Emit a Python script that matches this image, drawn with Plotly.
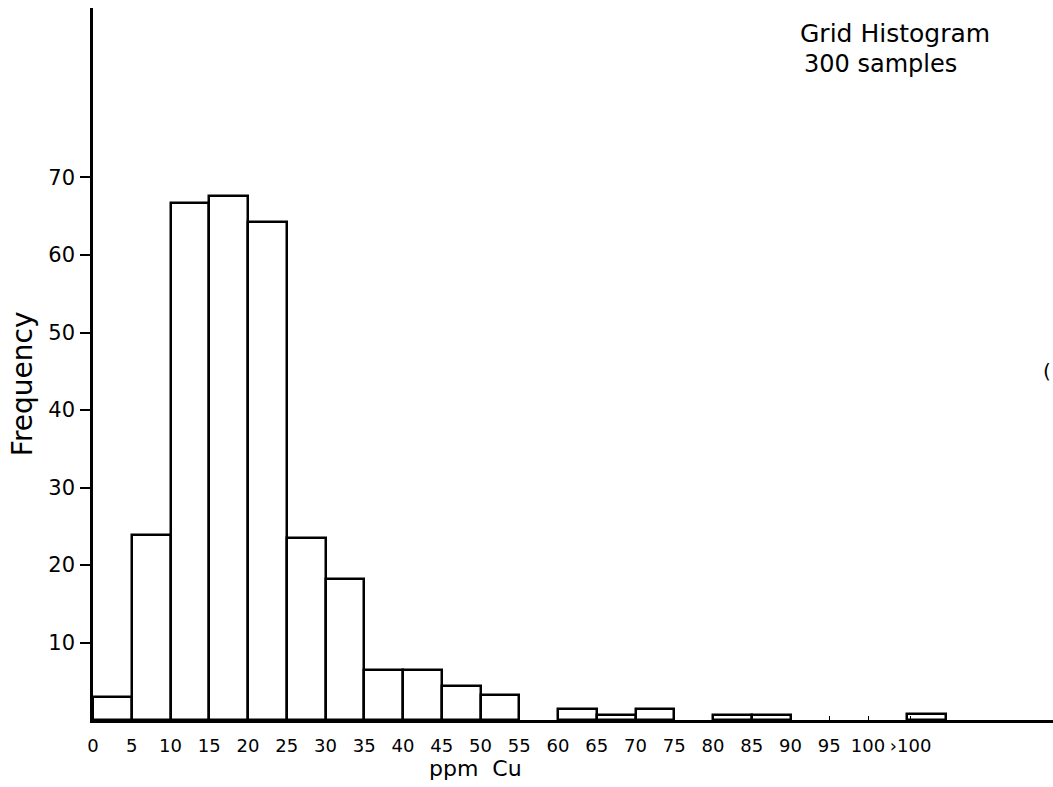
import plotly.graph_objects as go

# Bin lower edges (ppm Cu) and frequencies
bin_starts = [0, 5, 10, 15, 20, 25, 30, 35, 40, 45, 50, 60, 65, 70, 80, 85, 105]
frequencies = [3.0, 23.9, 66.7, 67.6, 64.3, 23.5, 18.2, 6.4, 6.5, 4.4, 3.2, 1.4, 0.7, 1.4, 0.7, 0.7, 0.8]
bin_width = 5

x_tick_vals = [0, 5, 10, 15, 20, 25, 30, 35, 40, 45, 50, 55, 60, 65, 70, 75, 80, 85, 90, 95, 100, 105.5]
x_tick_text = ["0", "5", "10", "15", "20", "25", "30", "35", "40", "45", "50", "55", "60",
               "65", "70", "75", "80", "85", "90", "95", "100", "›100"]
y_tick_vals = [10, 20, 30, 40, 50, 60, 70]

FONT = "DejaVu Sans"

fig = go.Figure()
fig.add_trace(go.Bar(
    x=[s + bin_width / 2 for s in bin_starts],
    y=frequencies,
    width=bin_width,
    marker=dict(color="white", line=dict(color="black", width=2.5)),
    showlegend=False,
))

fig.update_layout(
    width=1053, height=787,
    margin=dict(l=93, r=0, t=8, b=67, autoexpand=False),
    paper_bgcolor="white", plot_bgcolor="white",
    font=dict(family=FONT, color="black"),
    bargap=0,
    xaxis=dict(
        range=[0, 123.87], showgrid=False, zeroline=False,
        showline=True, linecolor="black", linewidth=2.5,
        tickmode="array", tickvals=x_tick_vals, ticktext=x_tick_text,
        ticks="inside", ticklen=4, tickcolor="black", tickwidth=1,
        tickfont=dict(size=18, family=FONT), ticklabelstandoff=8,
    ),
    yaxis=dict(
        range=[0, 91.87], showgrid=False, zeroline=False,
        showline=True, linecolor="black", linewidth=2.5,
        tickmode="array", tickvals=y_tick_vals,
        ticks="outside", ticklen=10, tickcolor="black", tickwidth=1.5,
        tickfont=dict(size=21, family=FONT), ticklabelstandoff=1,
    ),
    annotations=[
        dict(text="Grid Histogram", xref="paper", yref="paper", x=0.734, y=0.964,
             xanchor="left", yanchor="middle", showarrow=False,
             font=dict(size=25, family=FONT)),
        dict(text="300 samples", xref="paper", yref="paper", x=0.739, y=0.922,
             xanchor="left", yanchor="middle", showarrow=False,
             font=dict(size=24, family=FONT)),
        dict(text="Frequency", xref="paper", yref="paper", x=-0.074, y=0.473,
             xanchor="center", yanchor="middle", textangle=-90, showarrow=False,
             font=dict(size=28, family=FONT)),
        dict(text="ppm  Cu", xref="paper", yref="paper", x=0.398, y=-0.068,
             xanchor="center", yanchor="middle", showarrow=False,
             font=dict(size=22, family=FONT)),
        dict(text="(", xref="paper", yref="paper", x=1.0, y=0.49,
             xanchor="right", yanchor="middle", showarrow=False,
             font=dict(size=20, family=FONT)),
    ],
)

fig.write_html(
    "out.html",
    config={"displayModeBar": False},
    post_script="document.body.style.margin='0';document.body.style.overflow='hidden';",
)
